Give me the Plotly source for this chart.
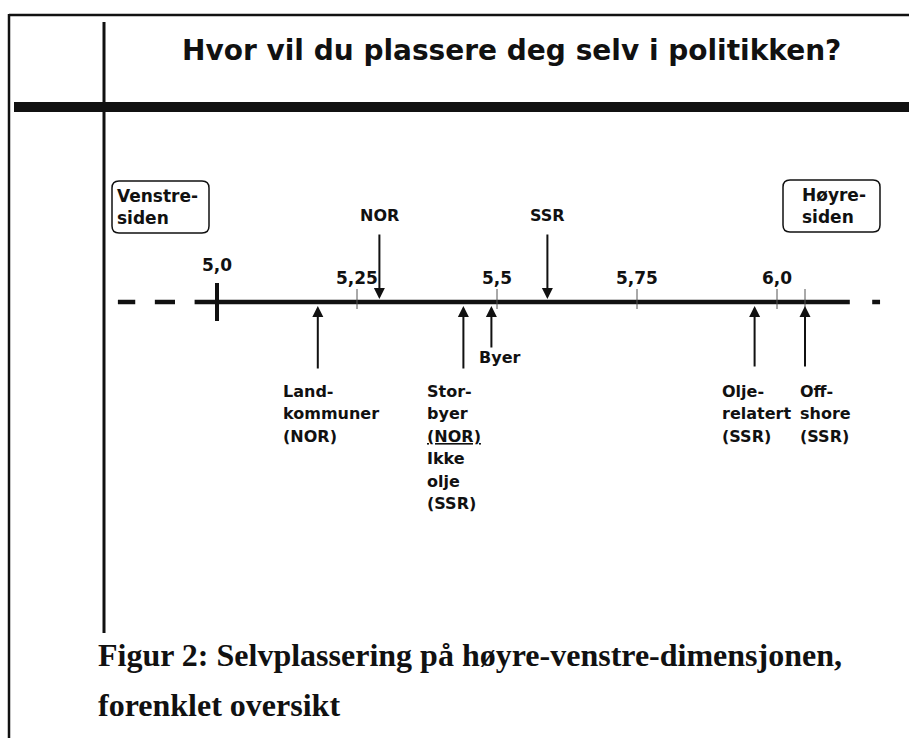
import plotly.graph_objects as go

# ---------------- data ----------------
title_text = "Hvor vil du plassere deg selv i politikken?"
caption_lines = ["Figur 2: Selvplassering på høyre-venstre-dimensjonen,",
                 "forenklet oversikt"]

tick_values = [5.0, 5.25, 5.5, 5.75, 6.0]
tick_labels = ["5,0", "5,25", "5,5", "5,75", "6,0"]

top_groups = ["NOR", "SSR"]
top_values = [5.29, 5.59]

bottom_groups = [["Land-", "kommuner", "(NOR)"],
                 ["Stor-", "byer", "<u>(NOR)</u>", "Ikke", "olje", "(SSR)"],
                 ["Byer"],
                 ["Olje-", "relatert", "(SSR)"],
                 ["Off-", "shore", "(SSR)"]]
bottom_values = [5.18, 5.44, 5.49, 5.96, 6.05]
extra_tick = [6.05]

side_labels = ["Venstre-<br>siden", "Høyre-<br>siden"]

axis_solid = [4.96, 6.13]
axis_dashes = [[4.823, 4.854], [4.889, 4.925], [6.170, 6.184]]

# ---------------- layout helpers ----------------
W, H = 909, 738
ORIGIN_PX, PX_PER_UNIT = 217, 560
x_range = [5 - ORIGIN_PX / PX_PER_UNIT, 5 + (W - ORIGIN_PX) / PX_PER_UNIT]
INK = "#111111"
SANS = "DejaVu Sans"
SERIF = "Liberation Serif"


def px(p):
    return p / W


AXIS_Y = 302

fig = go.Figure()

# main axis
fig.add_trace(go.Scatter(x=axis_solid, y=[AXIS_Y, AXIS_Y], mode="lines",
                         line=dict(color=INK, width=4.5), hoverinfo="skip"))
dx, dy = [], []
for a, b in axis_dashes:
    dx += [a, b, None]
    dy += [AXIS_Y, AXIS_Y, None]
fig.add_trace(go.Scatter(x=dx, y=dy, mode="lines",
                         line=dict(color=INK, width=4.5), hoverinfo="skip"))

# big tick at 5.0
fig.add_trace(go.Scatter(x=[tick_values[0], tick_values[0]], y=[283, 321], mode="lines",
                         line=dict(color=INK, width=4), hoverinfo="skip"))
# minor ticks
mx, my = [], []
for v in tick_values[1:] + extra_tick:
    mx += [v, v, None]
    my += [289, 309, None]
fig.add_trace(go.Scatter(x=mx, y=my, mode="lines",
                         line=dict(color="#555555", width=1), hoverinfo="skip"))

annotations = []
# tick labels
for i, (v, lab) in enumerate(zip(tick_values, tick_labels)):
    annotations.append(dict(x=v, y=265 if i == 0 else 278, xref="x", yref="y",
                            text=lab, showarrow=False, xanchor="center", yanchor="middle",
                            font=dict(family=SANS, size=17, color=INK, weight="bold")))

# top arrows (down)
for name, v in zip(top_groups, top_values):
    annotations.append(dict(x=v, y=299, ax=v, ay=233, xref="x", yref="y",
                            axref="x", ayref="y", text="", showarrow=True,
                            arrowhead=2, arrowsize=1.1, arrowwidth=2, arrowcolor=INK))
    annotations.append(dict(x=v, y=215, xref="x", yref="y", text=name, showarrow=False,
                            xanchor="center", yanchor="middle",
                            font=dict(family=SANS, size=16, color=INK, weight="bold")))

# bottom arrows (up)
label_shift = [-37, -38, -14, -35, -7]
tails = [370, 370, 349, 368, 368]
for lines, v, sh, t in zip(bottom_groups, bottom_values, label_shift, tails):
    annotations.append(dict(x=v, y=306, ax=v, ay=t, xref="x", yref="y",
                            axref="x", ayref="y", text="", showarrow=True,
                            arrowhead=2, arrowsize=1.1, arrowwidth=2, arrowcolor=INK))
    first_y = 357 if len(lines) == 1 else 391
    for k, line in enumerate(lines):
        annotations.append(dict(x=v, y=first_y + 22.5 * k, xref="x", yref="y", xshift=sh,
                                text=line, showarrow=False, xanchor="left", yanchor="middle",
                                font=dict(family=SANS, size=16, color=INK, weight="bold")))

# side boxes
boxes = [(112, 209, 181, 233, 115), (783, 880, 180, 232, 800)]
shapes = []
r = 7
for (x0, x1, y0, y1, tx), lab in zip(boxes, side_labels):
    path = (f"M {px(x0 + r)},{y0} L {px(x1 - r)},{y0} Q {px(x1)},{y0} {px(x1)},{y0 + r} "
            f"L {px(x1)},{y1 - r} Q {px(x1)},{y1} {px(x1 - r)},{y1} "
            f"L {px(x0 + r)},{y1} Q {px(x0)},{y1} {px(x0)},{y1 - r} "
            f"L {px(x0)},{y0 + r} Q {px(x0)},{y0} {px(x0 + r)},{y0} Z")
    shapes.append(dict(type="path", path=path, xref="paper", yref="y",
                       line=dict(color=INK, width=1.5)))
    annotations.append(dict(x=px(tx), y=(y0 + y1) / 2, xref="paper", yref="y", text=lab,
                            showarrow=False, xanchor="left", yanchor="middle", align="left",
                            font=dict(family=SANS, size=17, color=INK, weight="bold")))

# frame
shapes += [
    dict(type="line", xref="paper", yref="y", x0=px(9), x1=1, y0=15, y1=15,
         line=dict(color=INK, width=2.5)),
    dict(type="line", xref="paper", yref="y", x0=px(9), x1=px(9), y0=14, y1=H,
         line=dict(color=INK, width=2.5)),
    dict(type="line", xref="paper", yref="y", x0=px(104), x1=px(104), y0=22, y1=633,
         line=dict(color=INK, width=3)),
    dict(type="rect", xref="paper", yref="y", x0=px(14), x1=1, y0=102, y1=112,
         fillcolor=INK, line=dict(width=0)),
]

# title & caption
annotations.append(dict(x=px(511), y=50, xref="paper", yref="y", text=title_text,
                        showarrow=False, xanchor="center", yanchor="middle",
                        font=dict(family=SANS, size=28, color=INK, weight="bold")))
for i, line in enumerate(caption_lines):
    annotations.append(dict(x=px(96), y=655 + 50 * i, xref="paper", yref="y", text=line,
                            showarrow=False, xanchor="left", yanchor="middle",
                            font=dict(family=SERIF, size=32, color=INK, weight="bold")))

fig.update_layout(
    width=W, height=H, autosize=False,
    margin=dict(l=0, r=0, t=0, b=0, pad=0),
    paper_bgcolor="white", plot_bgcolor="white",
    showlegend=False,
    xaxis=dict(range=x_range, visible=False, fixedrange=True),
    yaxis=dict(range=[H, 0], visible=False, fixedrange=True),
    shapes=shapes, annotations=annotations,
)

fig.write_html("out.html", config={"displayModeBar": False},
               post_script="document.body.style.margin='0';document.body.style.overflow='hidden';")
